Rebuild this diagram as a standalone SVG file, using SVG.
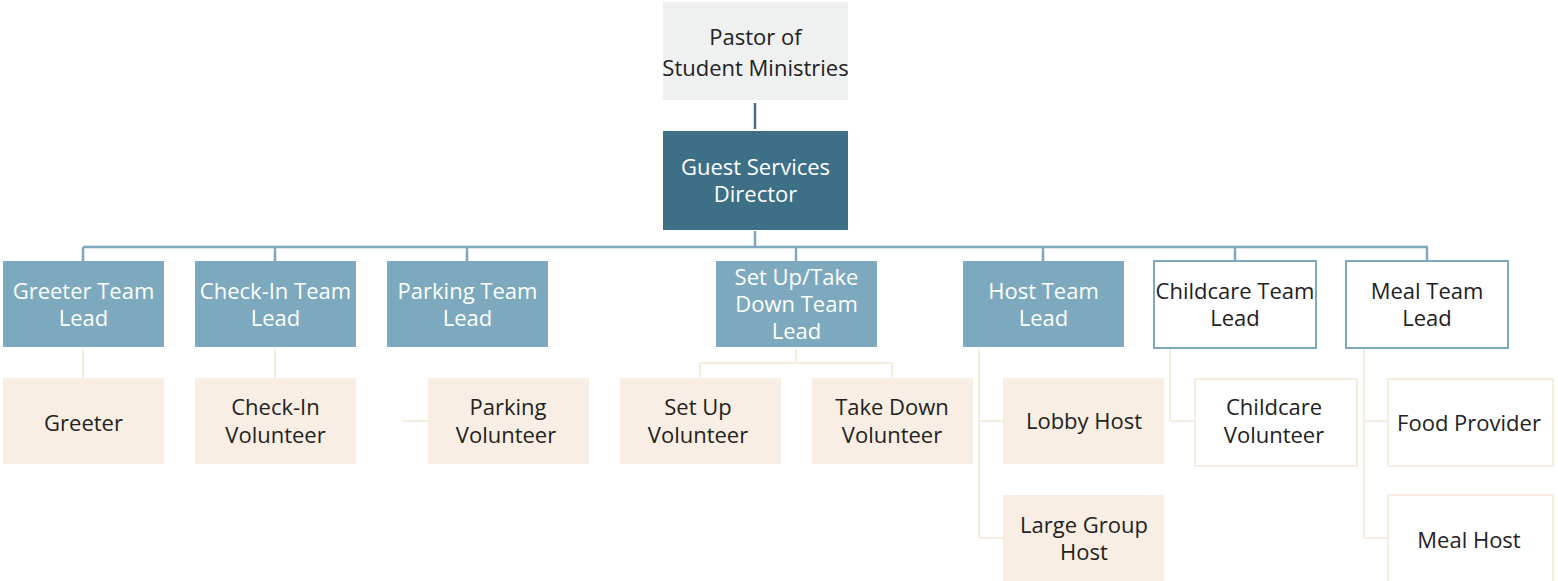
<svg xmlns="http://www.w3.org/2000/svg" width="1558" height="581" viewBox="0 0 1558 581">
<style>
text{font-family:"Open Sans","Noto Sans","Liberation Sans",sans-serif;font-size:22px;text-anchor:middle}
.top{fill:#eff0f0}
.dir{fill:#3d6f87}
.lead{fill:#7ca9bd}
.leadw{fill:#ffffff;stroke:#7ca9bd;stroke-width:2}
.vol{fill:#f9eee3}
.volw{fill:#ffffff;stroke:#f7ece0;stroke-width:2}
.tw{fill:#ffffff}
.td{fill:#222222}
.c1{stroke:#3d6f87;stroke-width:2.5;fill:none}
.c2{stroke:#7ca9bd;stroke-width:2.5;fill:none}
.c3{stroke:#f7ece0;stroke-width:2;fill:none}
</style>
<rect width="1558" height="581" fill="#ffffff"/>
<g id="connectors">
<path class="c1" d="M755 103V129"/>
<path class="c2" d="M755 231V247M83 247H1428M83 247V261M275 247V261M467 247V261M796 247V261M1043 247V261M1235 247V261M1427 247V261"/>
<path class="c3" d="M83 349V378M275 349V378M403 421H428M796 349V363M700 363H892M700 363V378M892 363V378M979 349V538M979 421H1003M979 538H1003M1170 349V421H1194M1364 349V538M1364 421H1388M1364 538H1388"/>
</g>
<g id="pastor"><rect class="top" x="663" y="2" width="185" height="98"/><text class="td" x="755.5" y="45">Pastor of</text><text class="td" x="755.5" y="76">Student Ministries</text></g>
<g id="director"><rect class="dir" x="663" y="131" width="185" height="99"/><text class="tw" x="755.5" y="175">Guest Services</text><text class="tw" x="755.5" y="202">Director</text></g>
<g id="greeter-lead"><rect class="lead" x="3" y="261" width="161" height="86"/><text class="tw" x="83.5" y="299">Greeter Team</text><text class="tw" x="83.5" y="326">Lead</text></g>
<g id="checkin-lead"><rect class="lead" x="195" y="261" width="161" height="86"/><text class="tw" x="275.5" y="299">Check-In Team</text><text class="tw" x="275.5" y="326">Lead</text></g>
<g id="parking-lead"><rect class="lead" x="387" y="261" width="161" height="86"/><text class="tw" x="467.5" y="299">Parking Team</text><text class="tw" x="467.5" y="326">Lead</text></g>
<g id="setup-lead"><rect class="lead" x="716" y="261" width="161" height="86"/><text class="tw" x="796.5" y="285">Set Up/Take</text><text class="tw" x="796.5" y="312">Down Team</text><text class="tw" x="796.5" y="339">Lead</text></g>
<g id="host-lead"><rect class="lead" x="963" y="261" width="161" height="86"/><text class="tw" x="1043.5" y="299">Host Team</text><text class="tw" x="1043.5" y="326">Lead</text></g>
<g id="childcare-lead"><rect class="leadw" x="1154" y="261" width="162" height="87"/><text class="td" x="1235" y="299">Childcare Team</text><text class="td" x="1235" y="326">Lead</text></g>
<g id="meal-lead"><rect class="leadw" x="1346" y="261" width="162" height="87"/><text class="td" x="1427" y="299">Meal Team</text><text class="td" x="1427" y="326">Lead</text></g>
<g id="greeter"><rect class="vol" x="3" y="378" width="161" height="86"/><text class="td" x="83.5" y="431">Greeter</text></g>
<g id="checkin-vol"><rect class="vol" x="195" y="378" width="161" height="86"/><text class="td" x="275.5" y="415">Check-In</text><text class="td" x="275.5" y="443">Volunteer</text></g>
<g id="parking-vol"><rect class="vol" x="428" y="378" width="161" height="86"/><text class="td" x="508" y="415">Parking</text><text class="td" x="506" y="443">Volunteer</text></g>
<g id="setup-vol"><rect class="vol" x="620" y="378" width="161" height="86"/><text class="td" x="698" y="415">Set Up</text><text class="td" x="698" y="443">Volunteer</text></g>
<g id="takedown-vol"><rect class="vol" x="812" y="378" width="161" height="86"/><text class="td" x="892" y="415">Take Down</text><text class="td" x="892" y="443">Volunteer</text></g>
<g id="lobby-host"><rect class="vol" x="1003" y="378" width="161" height="86"/><text class="td" x="1084" y="429">Lobby Host</text></g>
<g id="large-group-host"><rect class="vol" x="1003" y="495" width="161" height="86"/><text class="td" x="1084" y="533">Large Group</text><text class="td" x="1084" y="560">Host</text></g>
<g id="childcare-vol"><rect class="volw" x="1195" y="379" width="162" height="87"/><text class="td" x="1274" y="415">Childcare</text><text class="td" x="1274" y="443">Volunteer</text></g>
<g id="food-provider"><rect class="volw" x="1388" y="379" width="165" height="87"/><text class="td" x="1469" y="431">Food Provider</text></g>
<g id="meal-host"><rect class="volw" x="1388" y="495" width="165" height="90"/><text class="td" x="1469" y="548">Meal Host</text></g>
</svg>
